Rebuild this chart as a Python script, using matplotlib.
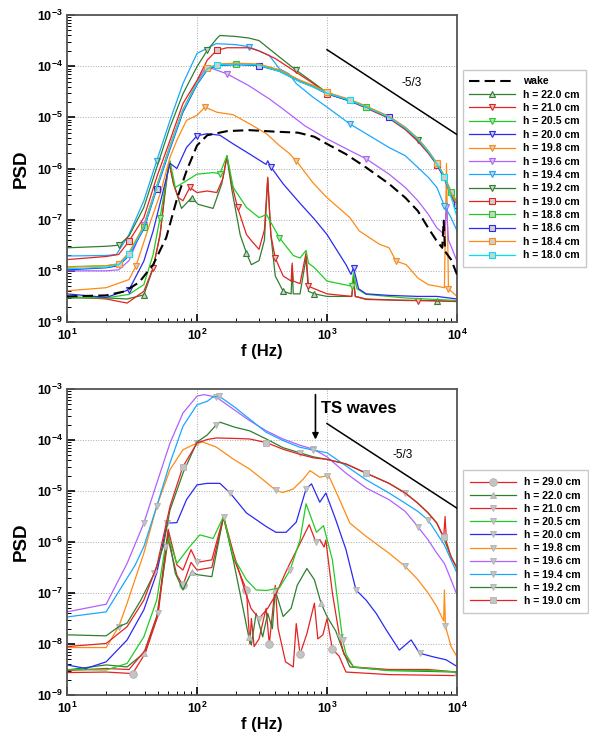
import numpy as np
import matplotlib
matplotlib.use('Agg')
import matplotlib.pyplot as plt
from matplotlib.ticker import LogLocator, FuncFormatter, NullFormatter

plt.rcParams['font.family'] = ['Liberation Sans', 'DejaVu Sans']
plt.rcParams['mathtext.fontset'] = 'custom'
plt.rcParams['mathtext.rm'] = 'Liberation Sans'
plt.rcParams['mathtext.bf'] = 'Liberation Sans:bold'
plt.rcParams['mathtext.it'] = 'Liberation Sans:italic'

# ---------------- colours ----------------
DKGREEN = '#2f7f2f'
RED = '#e52222'
GREEN = '#22cc22'
BLUE = '#2a2af2'
ORANGE = '#ff8a14'
PURPLE = '#b060ff'
LBLUE = '#18a8ff'
CYAN = '#00e2ee'

# ================= TOP PANEL DATA (f in Hz, log10 PSD) =================
t_f_wake = [10, 20, 28, 36, 46, 58, 70, 83, 100, 120, 170, 250, 400, 600, 800, 1000, 1400, 2000,
            3000, 4000, 5000, 6000, 7000, 7700, 7900, 8100, 9000, 10000]
t_p_wake = [-8.50, -8.48, -8.40, -8.22, -7.88, -7.35, -6.60, -6.05, -5.55, -5.35, -5.27, -5.25, -5.28,
            -5.30, -5.38, -5.52, -5.72, -5.98, -6.30, -6.57, -6.83, -7.16, -7.42, -7.55, -7.02, -7.62,
            -7.78, -8.07]

t_f_h220 = [10, 20, 29, 39, 46, 52, 57, 61, 66, 76, 91, 102, 133, 155, 170, 185, 215, 240, 262, 300,
            330, 350, 370, 400, 460, 530, 540, 550, 620, 690, 720, 800, 1000, 1550, 1600, 1650, 2000,
            4000, 7000, 10000]
t_p_h220 = [-8.53, -8.53, -8.55, -8.47, -7.95, -7.30, -6.45, -5.88, -6.30, -6.78, -6.57, -6.70, -6.78,
            -6.30, -5.78, -6.40, -7.30, -7.65, -7.88, -7.80, -7.40, -6.20, -7.30, -8.10, -8.40, -8.45,
            -7.90, -8.45, -8.45, -7.75, -8.40, -8.45, -8.50, -8.50, -8.10, -8.50, -8.55, -8.58, -8.58,
            -8.60]

t_f_h210 = [10, 20, 29, 39, 46, 52, 57, 61, 66, 72, 78, 88, 100, 120, 142, 158, 170, 185, 205, 240,
            270, 300, 330, 350, 370, 400, 460, 530, 540, 550, 620, 690, 720, 800, 1000, 1550, 1600,
            1650, 2000, 5000, 10000]
t_p_h210 = [-8.50, -8.55, -8.63, -8.40, -7.94, -7.29, -6.37, -5.88, -6.30, -6.57, -6.63, -6.37, -6.47,
            -6.44, -6.47, -6.20, -5.75, -6.30, -6.76, -7.29, -7.45, -7.58, -7.20, -6.17, -7.30, -7.75,
            -8.10, -8.20, -7.85, -8.20, -8.25, -7.65, -8.30, -8.35, -8.45, -8.50, -8.20, -8.50, -8.56,
            -8.58, -8.60]

t_f_h205 = [10, 20, 30, 39, 46, 52, 59, 62, 68, 83, 100, 133, 150, 170, 190, 240, 300, 343, 360, 430,
            550, 620, 690, 720, 800, 1000, 1550, 1600, 1700, 2000, 4000, 10000]
t_p_h205 = [-8.52, -8.53, -8.46, -8.27, -7.68, -6.96, -6.11, -5.85, -6.37, -6.24, -6.11, -6.08, -6.10,
            -5.75, -6.37, -6.76, -6.96, -6.90, -7.00, -7.35, -7.70, -7.75, -7.60, -7.85, -7.94, -8.20,
            -8.30, -8.04, -8.35, -8.46, -8.53, -8.58]

t_f_h200 = [10, 20, 30, 39, 46, 55, 62, 70, 83, 100, 120, 150, 190, 255, 340, 350, 370, 460, 620, 800,
            1000, 1400, 1530, 1600, 1750, 2000, 3000, 5000, 7000, 10000]
t_p_h200 = [-8.45, -8.52, -8.37, -7.81, -7.22, -6.43, -5.90, -6.00, -5.59, -5.36, -5.32, -5.35, -5.52,
            -5.72, -5.92, -5.85, -5.97, -6.30, -6.68, -6.99, -7.29, -7.88, -8.07, -7.94, -8.35, -8.45,
            -8.48, -8.50, -8.50, -8.55]

t_f_h198 = [10, 20, 30, 34, 44, 52, 62, 70, 83, 100, 115, 142, 190, 255, 342, 430, 510, 580, 775, 1000,
            1500, 1770, 2530, 3000, 3400, 4070, 5000, 6000, 7000, 8000, 8300, 8600, 10000]
t_p_h198 = [-8.39, -8.33, -8.17, -7.90, -7.03, -6.50, -5.78, -5.45, -5.06, -4.96, -4.80, -4.90, -4.95,
            -5.13, -5.32, -5.55, -5.70, -5.85, -6.27, -6.57, -6.96, -7.22, -7.48, -7.55, -7.81, -7.88,
            -8.14, -8.27, -8.30, -8.33, -5.90, -8.35, -8.50]

t_f_h196 = [10, 20, 25, 30, 39, 49, 62, 78, 100, 115, 132, 170, 250, 360, 460, 680, 1000, 1500, 2000,
            3000, 4000, 5000, 6000, 7000, 8000, 8300, 8600, 9000, 10000]
t_p_h196 = [-8.00, -8.00, -7.98, -7.80, -7.10, -6.35, -5.55, -4.85, -4.30, -4.05, -4.05, -4.15, -4.38,
            -4.64, -4.84, -5.17, -5.42, -5.65, -5.81, -6.11, -6.37, -6.63, -6.89, -7.16, -7.29, -6.76,
            -7.40, -7.52, -7.81]

t_f_h194 = [10, 20, 24, 30, 39, 49, 62, 78, 100, 120, 140, 200, 250, 360, 430, 510, 580, 775, 1000,
            1500, 2000, 3000, 4000, 5000, 6000, 7000, 8000, 9000, 10000]
t_p_h194 = [-7.71, -7.70, -7.68, -7.29, -6.63, -5.85, -5.06, -4.34, -3.75, -3.65, -3.56, -3.58, -3.62,
            -3.79, -4.05, -4.15, -4.34, -4.60, -4.80, -5.13, -5.32, -5.59, -5.75, -5.98, -6.17, -6.37,
            -6.73, -6.96, -7.22]

t_f_h192 = [10, 20, 25, 30, 39, 49, 62, 78, 100, 120, 142, 150, 200, 250, 300, 430, 580, 775, 1000,
            1500, 2000, 3000, 4000, 5000, 6000, 7000, 8000, 9000, 10000]
t_p_h192 = [-7.55, -7.52, -7.50, -7.32, -6.76, -5.98, -5.19, -4.54, -4.01, -3.69, -3.46, -3.40, -3.42,
            -3.45, -3.50, -3.82, -4.08, -4.31, -4.52, -4.67, -4.80, -5.00, -5.22, -5.45, -5.68, -5.91,
            -6.17, -6.50, -6.70]

t_f_h190 = [10, 20, 25, 30, 39, 49, 62, 78, 100, 120, 142, 170, 250, 300, 400, 580, 775, 1000, 1500,
            2000, 3000, 4000, 5000, 6000, 7000, 8000, 9000, 10000]
t_p_h190 = [-7.78, -7.72, -7.68, -7.42, -6.96, -6.17, -5.45, -4.73, -4.28, -3.88, -3.69, -3.64, -3.64,
            -3.70, -3.85, -4.12, -4.33, -4.54, -4.68, -4.82, -5.02, -5.24, -5.47, -5.70, -5.93, -6.20,
            -6.55, -6.75]

t_f_cluster = [10, 20, 25, 30, 39, 49, 62, 78, 100, 120, 142, 200, 300, 430, 616, 775, 1000, 1500, 2000,
               3000, 4000, 5000, 6000, 7000, 8000, 9000, 10000]
t_p_h188 = [-7.92, -7.90, -7.87, -7.66, -7.14, -6.35, -5.57, -4.86, -4.33, -4.05, -3.97, -3.95, -3.97,
            -4.08, -4.28, -4.38, -4.52, -4.66, -4.79, -4.99, -5.20, -5.42, -5.66, -5.90, -6.15, -6.45,
            -6.65]
t_p_h186 = [-7.98, -7.94, -7.90, -7.70, -7.18, -6.40, -5.62, -4.90, -4.36, -4.07, -3.99, -3.97, -3.99,
            -4.10, -4.30, -4.40, -4.54, -4.68, -4.80, -5.00, -5.21, -5.43, -5.67, -5.92, -6.18, -6.50,
            -6.72]
t_p_h184 = [-7.93, -7.90, -7.86, -7.64, -7.12, -6.34, -5.56, -4.85, -4.33, -4.04, -3.96, -3.94, -3.96,
            -4.07, -4.27, -4.37, -4.51, -4.65, -4.78, -4.98, -5.19, -5.41, -5.65, -5.89, -6.14, -6.48,
            -6.70]
t_p_h180 = [-7.96, -7.93, -7.88, -7.68, -7.16, -6.37, -5.59, -4.87, -4.34, -4.05, -3.98, -3.96, -3.98,
            -4.10, -4.30, -4.40, -4.53, -4.67, -4.80, -5.00, -5.21, -5.43, -5.67, -5.91, -6.16, -6.55,
            -6.95]

top_labels = ['wake', 'h = 22.0 cm', 'h = 21.0 cm', 'h = 20.5 cm', 'h = 20.0 cm', 'h = 19.8 cm',
              'h = 19.6 cm', 'h = 19.4 cm', 'h = 19.2 cm', 'h = 19.0 cm', 'h = 18.8 cm', 'h = 18.6 cm',
              'h = 18.4 cm', 'h = 18.0 cm']
top_colors = ['black', DKGREEN, RED, GREEN, BLUE, ORANGE, PURPLE, LBLUE, DKGREEN, RED, GREEN, BLUE,
              ORANGE, CYAN]
top_markers = [None, '^', 'v', 'v', 'v', 'v', 'v', 'v', 'v', 's', 's', 's', 's', 's']
top_freqs = [t_f_wake, t_f_h220, t_f_h210, t_f_h205, t_f_h200, t_f_h198, t_f_h196, t_f_h194, t_f_h192,
             t_f_h190, t_f_cluster, t_f_cluster, t_f_cluster, t_f_cluster]
top_logpsd = [t_p_wake, t_p_h220, t_p_h210, t_p_h205, t_p_h200, t_p_h198, t_p_h196, t_p_h194, t_p_h192,
              t_p_h190, t_p_h188, t_p_h186, t_p_h184, t_p_h180]

# ================= BOTTOM PANEL DATA (f in Hz, log10 PSD) =================
b_f_h290 = [10, 20, 32, 40, 50, 55, 60, 70, 78, 90, 100, 130, 160, 190, 240, 255, 262, 275, 300, 340,
            360, 400, 420, 480, 550, 580, 620, 700, 800, 850, 930, 1000, 1100, 1240, 1400, 3000, 10000]
b_p_h290 = [-8.56, -8.55, -8.58, -8.18, -7.45, -6.60, -5.95, -6.65, -6.85, -6.40, -6.55, -6.50, -5.52,
            -6.30, -6.94, -8.00, -7.50, -8.05, -7.90, -7.30, -8.00, -6.85, -7.69, -8.35, -8.45, -7.60,
            -8.20, -7.80, -7.20, -7.90, -7.82, -7.50, -8.10, -8.24, -8.55, -8.60, -8.62]

b_f_h220 = [10, 20, 29, 39, 49, 55, 60, 68, 78, 91, 100, 130, 160, 190, 214, 250, 262, 285, 320, 350,
            380, 400, 460, 530, 590, 700, 800, 900, 1000, 1170, 1320, 1500, 3000, 10000]
b_p_h220 = [-8.51, -8.41, -8.45, -8.18, -7.46, -6.61, -5.83, -6.61, -6.94, -6.58, -6.64, -6.68, -5.50,
            -6.35, -7.00, -7.86, -8.02, -7.40, -7.86, -7.40, -7.70, -6.95, -7.46, -7.30, -6.85, -6.52,
            -6.74, -7.20, -7.46, -7.75, -8.12, -8.45, -8.52, -8.55]

b_f_h210 = [10, 20, 30, 40, 50, 55, 60, 70, 78, 90, 100, 130, 160, 190, 230, 260, 300, 350, 400, 500,
            600, 730, 820, 880, 950, 980, 1000, 1100, 1250, 1350, 1600, 3000, 6000, 10000]
b_p_h210 = [-8.52, -8.48, -8.50, -8.12, -7.40, -6.50, -5.75, -6.45, -6.55, -6.15, -6.40, -6.35, -5.50,
            -6.20, -6.90, -7.30, -7.50, -7.30, -7.05, -6.50, -6.10, -5.66, -6.00, -5.95, -6.10, -5.96,
            -6.15, -7.00, -7.86, -8.20, -8.45, -8.50, -8.50, -8.55]

b_f_h205 = [10, 20, 29, 39, 49, 57, 61, 70, 88, 105, 133, 160, 190, 240, 285, 342, 430, 520, 620, 690,
            830, 940, 1100, 1320, 1400, 1600, 3000, 6000, 10000]
b_p_h205 = [-8.50, -8.51, -8.38, -7.86, -7.14, -6.09, -5.95, -6.42, -6.09, -5.86, -5.93, -5.50, -6.29,
            -6.74, -6.94, -6.95, -6.90, -6.55, -5.96, -5.25, -5.81, -5.68, -6.35, -7.92, -8.20, -8.45,
            -8.52, -8.52, -8.55]

b_f_h200 = [10, 14, 20, 29, 39, 49, 59, 70, 83, 100, 120, 150, 180, 240, 342, 405, 485, 580, 690, 760,
            880, 980, 1170, 1400, 1670, 2000, 2390, 2850, 3600, 4440, 5150, 6520, 8250, 10000]
b_p_h200 = [-8.41, -8.48, -8.35, -7.92, -7.33, -6.61, -5.63, -5.62, -5.17, -4.88, -4.85, -4.85, -5.04,
            -5.43, -5.70, -5.81, -5.81, -5.61, -4.96, -4.86, -5.22, -5.04, -5.57, -6.15, -6.94, -7.14,
            -7.40, -7.72, -8.12, -7.92, -8.18, -8.25, -8.31, -8.44]

b_f_h198 = [10, 20, 25, 29, 39, 49, 62, 78, 100, 111, 141, 189, 254, 341, 405, 458, 550, 660, 740, 880,
            1000, 1040, 1250, 1500, 2000, 3000, 4000, 5000, 6000, 7000, 7900, 8000, 8150, 9000, 10000]
b_p_h198 = [-8.07, -8.07, -7.66, -7.20, -6.22, -5.30, -4.58, -4.19, -4.06, -4.04, -4.14, -4.37, -4.57,
            -4.83, -4.99, -5.03, -4.96, -4.76, -4.60, -4.73, -4.70, -4.72, -5.17, -5.63, -5.89, -6.22,
            -6.48, -6.74, -7.00, -7.27, -7.55, -6.94, -7.65, -8.05, -8.25]

b_f_h196 = [10, 20, 29, 39, 49, 62, 78, 100, 113, 141, 189, 254, 341, 458, 615, 785, 1000, 1400, 2000,
            3000, 4000, 5000, 6000, 7000, 8000, 9000, 10000]
b_p_h196 = [-7.37, -7.22, -6.42, -5.63, -4.85, -4.06, -3.47, -3.14, -3.11, -3.16, -3.39, -3.62, -3.82,
            -3.98, -4.10, -4.18, -4.33, -4.65, -4.94, -5.17, -5.40, -5.70, -5.96, -6.22, -6.42, -6.74,
            -7.04]

b_f_h194 = [10, 20, 33.5, 39, 49, 62, 78, 100, 120, 132, 148, 196, 254, 341, 458, 615, 785, 1000, 2000,
            3000, 4000, 5000, 6000, 7000, 8000, 9000, 10000]
b_p_h194 = [-7.47, -7.37, -6.45, -6.09, -5.30, -4.45, -3.73, -3.31, -3.24, -3.16, -3.14, -3.36, -3.59,
            -3.85, -4.01, -4.14, -4.20, -4.25, -4.78, -5.04, -5.24, -5.40, -5.57, -5.83, -6.06, -6.35,
            -6.61]

b_f_h192 = [10, 20, 25, 29, 37, 47, 55, 62, 78, 100, 120, 141, 150, 196, 254, 341, 458, 615, 785, 1000,
            1400, 2000, 3000, 4000, 5000, 6000, 7000, 8000, 9000, 10000]
b_p_h192 = [-7.82, -7.84, -7.66, -7.59, -7.14, -6.61, -6.09, -5.37, -4.65, -4.04, -3.90, -3.70, -3.65,
            -3.75, -3.82, -3.98, -4.15, -4.25, -4.33, -4.38, -4.47, -4.65, -4.85, -5.04, -5.24, -5.43,
            -5.63, -5.96, -6.29, -6.51]

b_f_h190 = [10, 20, 29, 39, 49, 62, 78, 100, 120, 141, 200, 254, 341, 458, 615, 785, 1000, 1400, 2000,
            3000, 4000, 5000, 6000, 7000, 7900, 8100, 8300, 9000, 10000]
b_p_h190 = [-8.05, -7.99, -7.66, -7.14, -6.48, -5.30, -4.52, -4.06, -3.99, -3.96, -3.97, -3.98, -4.05,
            -4.18, -4.28, -4.35, -4.38, -4.47, -4.65, -4.85, -5.04, -5.24, -5.43, -5.63, -5.90, -5.50,
            -6.00, -6.29, -6.51]

bot_labels = ['h = 29.0 cm', 'h = 22.0 cm', 'h = 21.0 cm', 'h = 20.5 cm', 'h = 20.0 cm', 'h = 19.8 cm',
              'h = 19.6 cm', 'h = 19.4 cm', 'h = 19.2 cm', 'h = 19.0 cm']
bot_colors = [RED, DKGREEN, RED, GREEN, BLUE, ORANGE, PURPLE, LBLUE, DKGREEN, RED]
bot_markers = ['o', '^', 'v', 'v', 'v', 'v', 'v', 'v', 'v', 's']
bot_freqs = [b_f_h290, b_f_h220, b_f_h210, b_f_h205, b_f_h200, b_f_h198, b_f_h196, b_f_h194, b_f_h192,
             b_f_h190]
bot_logpsd = [b_p_h290, b_p_h220, b_p_h210, b_p_h205, b_p_h200, b_p_h198, b_p_h196, b_p_h194, b_p_h192,
              b_p_h190]

# reference slope line (-5/3) and annotations
slope_f = [1e3, 1e4]
slope_psd = [2.1e-4, 4.6e-6]
ts_wave_f = 815

# ================= FIGURE =================
fig = plt.figure(figsize=(5.89, 7.36), dpi=100)
W, H = 589.0, 736.0
ax1 = fig.add_axes([67 / W, 1 - 322 / H, 390 / W, 307 / H])
ax2 = fig.add_axes([67 / W, 1 - 695 / H, 390 / W, 306 / H])


def style_axes(ax):
    ax.set_xscale('log')
    ax.set_yscale('log')
    ax.set_xlim(10, 1e4)
    ax.set_ylim(1e-9, 1e-3)
    fmt = FuncFormatter(lambda v, pos: r'$\mathbf{10^{%d}}$' % int(round(np.log10(v))))
    ax.xaxis.set_major_locator(LogLocator(base=10, numticks=10))
    ax.yaxis.set_major_locator(LogLocator(base=10, numticks=10))
    ax.xaxis.set_minor_locator(LogLocator(base=10, subs=np.arange(2, 10), numticks=20))
    ax.yaxis.set_minor_locator(LogLocator(base=10, subs=np.arange(2, 10), numticks=20))
    ax.xaxis.set_major_formatter(fmt)
    ax.yaxis.set_major_formatter(fmt)
    ax.xaxis.set_minor_formatter(NullFormatter())
    ax.yaxis.set_minor_formatter(NullFormatter())
    ax.tick_params(which='major', direction='in', length=6, width=1.2, labelsize=9, pad=4,
                   top=False, right=False)
    ax.tick_params(which='minor', direction='in', length=3, width=0.7, top=False, right=False)
    ax.tick_params(axis='y', which='major', pad=3)
    ax.grid(True, which='major', linestyle=':', color='#aaaaaa', linewidth=0.7)
    for sp in ax.spines.values():
        sp.set_color('#555555')
        sp.set_linewidth(1.3)
    ax.set_ylabel('PSD', fontsize=13.5, fontweight='bold', labelpad=5)
    ax.set_xlabel('f (Hz)', fontsize=12, fontweight='bold', labelpad=1)


for ax in (ax1, ax2):
    style_axes(ax)

# ---- top curves ----
for i, (f, lp, lab, col, mk) in enumerate(zip(top_freqs, top_logpsd, top_labels, top_colors,
                                               top_markers)):
    y = 10.0 ** np.asarray(lp)
    if mk is None:
        ax1.plot(f, y, color=col, lw=1.5, dashes=(5, 2.5), label=lab, zorder=3)
    else:
        ax1.plot(f, y, color=col, lw=0.9, marker=mk, markersize=4.2, markerfacecolor='#cfcfcf',
                 markeredgecolor=col, markeredgewidth=0.8, markevery=(2 + i % 4, 7), label=lab,
                 zorder=2)

# ---- bottom curves ----
for i, (f, lp, lab, col, mk) in enumerate(zip(bot_freqs, bot_logpsd, bot_labels, bot_colors,
                                               bot_markers)):
    y = 10.0 ** np.asarray(lp)
    ms = 5.5 if mk == 'o' else 4.2
    ax2.plot(f, y, color=col, lw=0.9, marker=mk, markersize=ms, markerfacecolor='#c4c4c4',
             markeredgecolor='#b0b0b0', markeredgewidth=0.6, markevery=(2 + i % 5, 6), label=lab,
             zorder=2)

# ---- -5/3 lines ----
for ax, tx, ty in ((ax1, 4.5e3, 4.7e-5), (ax2, 3.8e3, 5.1e-5)):
    ax.plot(slope_f, slope_psd, color='black', lw=1.1, zorder=4)
    ax.text(tx, ty, '-5/3', fontsize=8.5, ha='center', va='center', zorder=5)

# ---- TS waves annotation ----
ax2.annotate('', xy=(ts_wave_f, 9.0e-5), xytext=(ts_wave_f, 8.8e-4),
             arrowprops=dict(arrowstyle='-|>', color='black', lw=1.2, mutation_scale=9), zorder=6)
ax2.text(905, 4.1e-4, 'TS waves', fontsize=12, fontweight='bold', ha='left', va='center', zorder=6)

# ---- legends ----
leg1 = ax1.legend(loc='upper left', bbox_to_anchor=(463 / W, 1 - 70 / H), bbox_transform=fig.transFigure,
                  borderaxespad=0, frameon=True, fancybox=False, framealpha=1, edgecolor='#c8c8c8',
                  prop={'weight': 'bold', 'size': 7.6}, handlelength=4.3, handletextpad=0.8,
                  labelspacing=0.32, numpoints=1, borderpad=0.6)
leg1.get_frame().set_linewidth(1.0)
leg2 = ax2.legend(loc='upper left', bbox_to_anchor=(463 / W, 1 - 470 / H), bbox_transform=fig.transFigure,
                  borderaxespad=0, frameon=True, fancybox=False, framealpha=1, edgecolor='#c8c8c8',
                  prop={'weight': 'bold', 'size': 7.6}, handlelength=4.3, handletextpad=0.8,
                  labelspacing=0.3, numpoints=1, borderpad=0.7)
leg2.get_frame().set_linewidth(1.0)

fig.savefig('out.png', dpi=100)
